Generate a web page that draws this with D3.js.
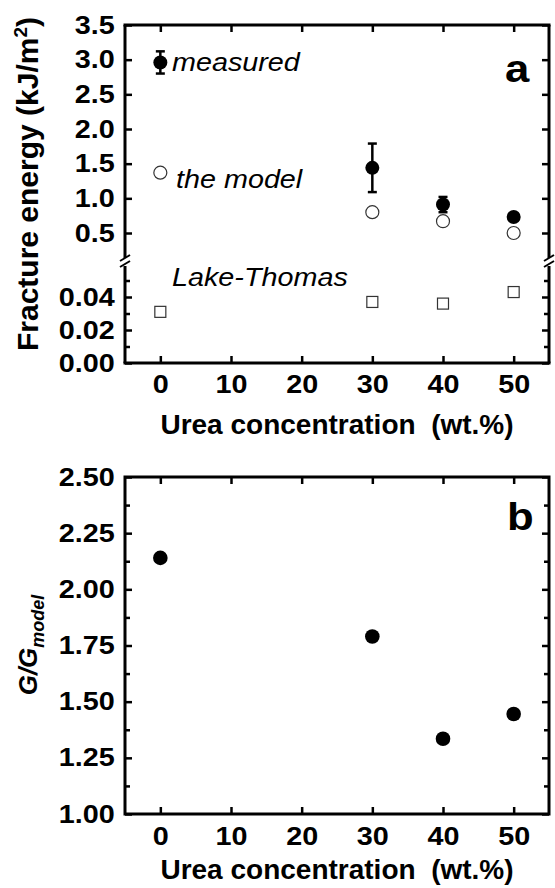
<!DOCTYPE html>
<html>
<head>
<meta charset="utf-8">
<script src="https://cdn.jsdelivr.net/npm/d3@7"></script>
<style>
  body { margin: 0; background: #fff; }
  text { font-family: "Liberation Sans", Arial, sans-serif; fill: #000; }
</style>
</head>
<body>
<svg width="555" height="888"></svg>
<script>
// values
var urea = [0, 30, 40, 50];
var measured = [2.96, 1.44, 0.91, 0.73];
var measuredErr = [0.16, 0.35, 0.11, 0.05];
var model = [1.37, 0.80, 0.67, 0.50];
var lakeThomas = [0.031, 0.037, 0.036, 0.043];
var ratio = [2.14, 1.79, 1.335, 1.445];

var xTicks = [0, 10, 20, 30, 40, 50];
var upperTicks = [0.5, 1.0, 1.5, 2.0, 2.5, 3.0, 3.5];
var lowerTicks = [0, 0.02, 0.04];
var lowerMinor = [0.01, 0.03, 0.05];
var ratioTicks = [1.00, 1.25, 1.50, 1.75, 2.00, 2.25, 2.50];
var ratioMinor = [1.125, 1.375, 1.625, 1.875, 2.125, 2.375];

var svg = d3.select("svg"),
    left = 125, right = 549,
    stretch = "scale(1.15,1)";

var x = d3.scaleLinear().domain([-5, 55]).range([left, right]);

// panel a has a broken y axis: upper part in kJ/m2, lower part for Lake-Thomas
var yUp = d3.scaleLinear().domain([0.5, 3.5]).range([233, 25]);
var yLo = d3.scaleLinear().domain([0, 0.06]).range([363, 264]);
var topA = 25, botA = 363, breakA = 262;

// panel b
var yB = d3.scaleLinear().domain([1, 2.5]).range([814, 477]);
var topB = 477, botB = 814;

function drawAxis(gen, tx, ty, withLabels) {
  var g = svg.append("g")
      .attr("transform", "translate(" + tx + "," + ty + ")")
      .call(gen);
  g.attr("font-family", null).attr("font-size", null);
  g.select(".domain").remove();
  g.selectAll(".tick line").attr("stroke", "#000").attr("stroke-width", 2.5);
  if (withLabels) {
    g.selectAll(".tick text")
        .attr("fill", "#000")
        .style("font-size", "25px")
        .style("font-weight", "bold")
        .attr("transform", stretch);
  } else {
    g.selectAll(".tick text").remove();
  }
  return g;
}

function line(x1, y1, x2, y2, w) {
  svg.append("line")
      .attr("x1", x1).attr("y1", y1).attr("x2", x2).attr("y2", y2)
      .attr("stroke", "#000").attr("stroke-width", w || 3);
}

// ---------- panel a ----------
drawAxis(d3.axisBottom(x).tickValues(xTicks).tickSize(-7).tickPadding(12), 0, botA, true);
drawAxis(d3.axisTop(x).tickValues(xTicks).tickSize(-7), 0, topA, false);
drawAxis(d3.axisLeft(yUp).tickValues(upperTicks).tickFormat(d3.format(".1f")).tickSize(-7).tickPadding(9), left, 0, true);
drawAxis(d3.axisRight(yUp).tickValues(upperTicks).tickSize(-7), right, 0, false);
drawAxis(d3.axisLeft(yLo).tickValues(lowerTicks).tickFormat(d3.format(".2f")).tickSize(-7).tickPadding(9), left, 0, true);
drawAxis(d3.axisLeft(yLo).tickValues(lowerMinor).tickSize(-5), left, 0, false);
drawAxis(d3.axisRight(yLo).tickValues(lowerTicks).tickSize(-7), right, 0, false);
drawAxis(d3.axisRight(yLo).tickValues(lowerMinor).tickSize(-5), right, 0, false);

// frame with the break
line(left - 1.5, topA, right + 1.5, topA);
line(left - 1.5, botA, right + 1.5, botA);
[left, right].forEach(function(xx) {
  line(xx, topA, xx, breakA - 4);
  line(xx, breakA + 4, xx, botA);
  line(xx - 5, breakA - 1, xx + 5, breakA - 7, 2);
  line(xx - 5, breakA + 5, xx + 5, breakA - 1, 2);
});

// error bars
urea.forEach(function(u, i) {
  var cx = x(u), y1 = yUp(measured[i] - measuredErr[i]), y2 = yUp(measured[i] + measuredErr[i]);
  line(cx, y1, cx, y2, 2.5);
  line(cx - 4.5, y1, cx + 4.5, y1, 2.5);
  line(cx - 4.5, y2, cx + 4.5, y2, 2.5);
});

svg.append("g").selectAll("circle")
    .data(model)
    .join("circle")
    .attr("cx", function(d, i) { return x(urea[i]); })
    .attr("cy", function(d) { return yUp(d); })
    .attr("r", 6.5)
    .attr("fill", "#fff").attr("stroke", "#333").attr("stroke-width", 1.2);

svg.append("g").selectAll("circle")
    .data(measured)
    .join("circle")
    .attr("cx", function(d, i) { return x(urea[i]); })
    .attr("cy", function(d) { return yUp(d); })
    .attr("r", 7)
    .attr("fill", "#000");

svg.append("g").selectAll("rect")
    .data(lakeThomas)
    .join("rect")
    .attr("x", function(d, i) { return x(urea[i]) - 5.5; })
    .attr("y", function(d) { return yLo(d) - 5.5; })
    .attr("width", 11).attr("height", 11)
    .attr("fill", "#fff").attr("stroke", "#333").attr("stroke-width", 1.2);

function label(txt, tx, ty, size, style, weight) {
  svg.append("text")
      .attr("transform", "translate(" + tx + "," + ty + ") " + stretch)
      .style("font-size", size + "px")
      .style("font-style", style || "normal")
      .style("font-weight", weight || "normal")
      .text(txt);
}
label("measured", 172, 71, 25, "italic");
label("the model", 176, 188, 25, "italic");
label("Lake-Thomas", 172, 286, 25, "italic");
label("a", 505, 82, 38, "normal", "bold");

svg.append("text")
    .attr("transform", "translate(337,434)")
    .attr("text-anchor", "middle")
    .style("font-size", "28px").style("font-weight", "bold")
    .style("white-space", "pre")
    .text("Urea concentration  (wt.%)");

var ta = svg.append("text")
    .attr("transform", "translate(38,184) rotate(-90)")
    .attr("text-anchor", "middle")
    .style("font-size", "30px").style("font-weight", "bold");
ta.append("tspan").text("Fracture energy (kJ/m");
ta.append("tspan").attr("dy", -11).style("font-size", "19px").text("2");
ta.append("tspan").attr("dy", 11).text(")");

// ---------- panel b ----------
drawAxis(d3.axisBottom(x).tickValues(xTicks).tickSize(-7).tickPadding(13), 0, botB, true);
drawAxis(d3.axisTop(x).tickValues(xTicks).tickSize(-7), 0, topB, false);
drawAxis(d3.axisLeft(yB).tickValues(ratioTicks).tickFormat(d3.format(".2f")).tickSize(-7).tickPadding(9), left, 0, true);
drawAxis(d3.axisLeft(yB).tickValues(ratioMinor).tickSize(-5), left, 0, false);
drawAxis(d3.axisRight(yB).tickValues(ratioTicks).tickSize(-7), right, 0, false);
drawAxis(d3.axisRight(yB).tickValues(ratioMinor).tickSize(-5), right, 0, false);

svg.append("rect")
    .attr("x", left).attr("y", topB)
    .attr("width", right - left).attr("height", botB - topB)
    .attr("fill", "none").attr("stroke", "#000").attr("stroke-width", 3);

svg.append("g").selectAll("circle")
    .data(ratio)
    .join("circle")
    .attr("cx", function(d, i) { return x(urea[i]); })
    .attr("cy", function(d) { return yB(d); })
    .attr("r", 7.3)
    .attr("fill", "#000");

label("b", 507, 530, 38, "normal", "bold");

svg.append("text")
    .attr("transform", "translate(337,879)")
    .attr("text-anchor", "middle")
    .style("font-size", "28px").style("font-weight", "bold")
    .style("white-space", "pre")
    .text("Urea concentration  (wt.%)");

var tb = svg.append("text")
    .attr("transform", "translate(37,645) rotate(-90)")
    .attr("text-anchor", "middle")
    .style("font-size", "26px").style("font-weight", "bold").style("font-style", "italic");
tb.append("tspan").text("G/G");
tb.append("tspan").attr("dy", 7).style("font-size", "18px").text("model");
</script>
</body>
</html>
